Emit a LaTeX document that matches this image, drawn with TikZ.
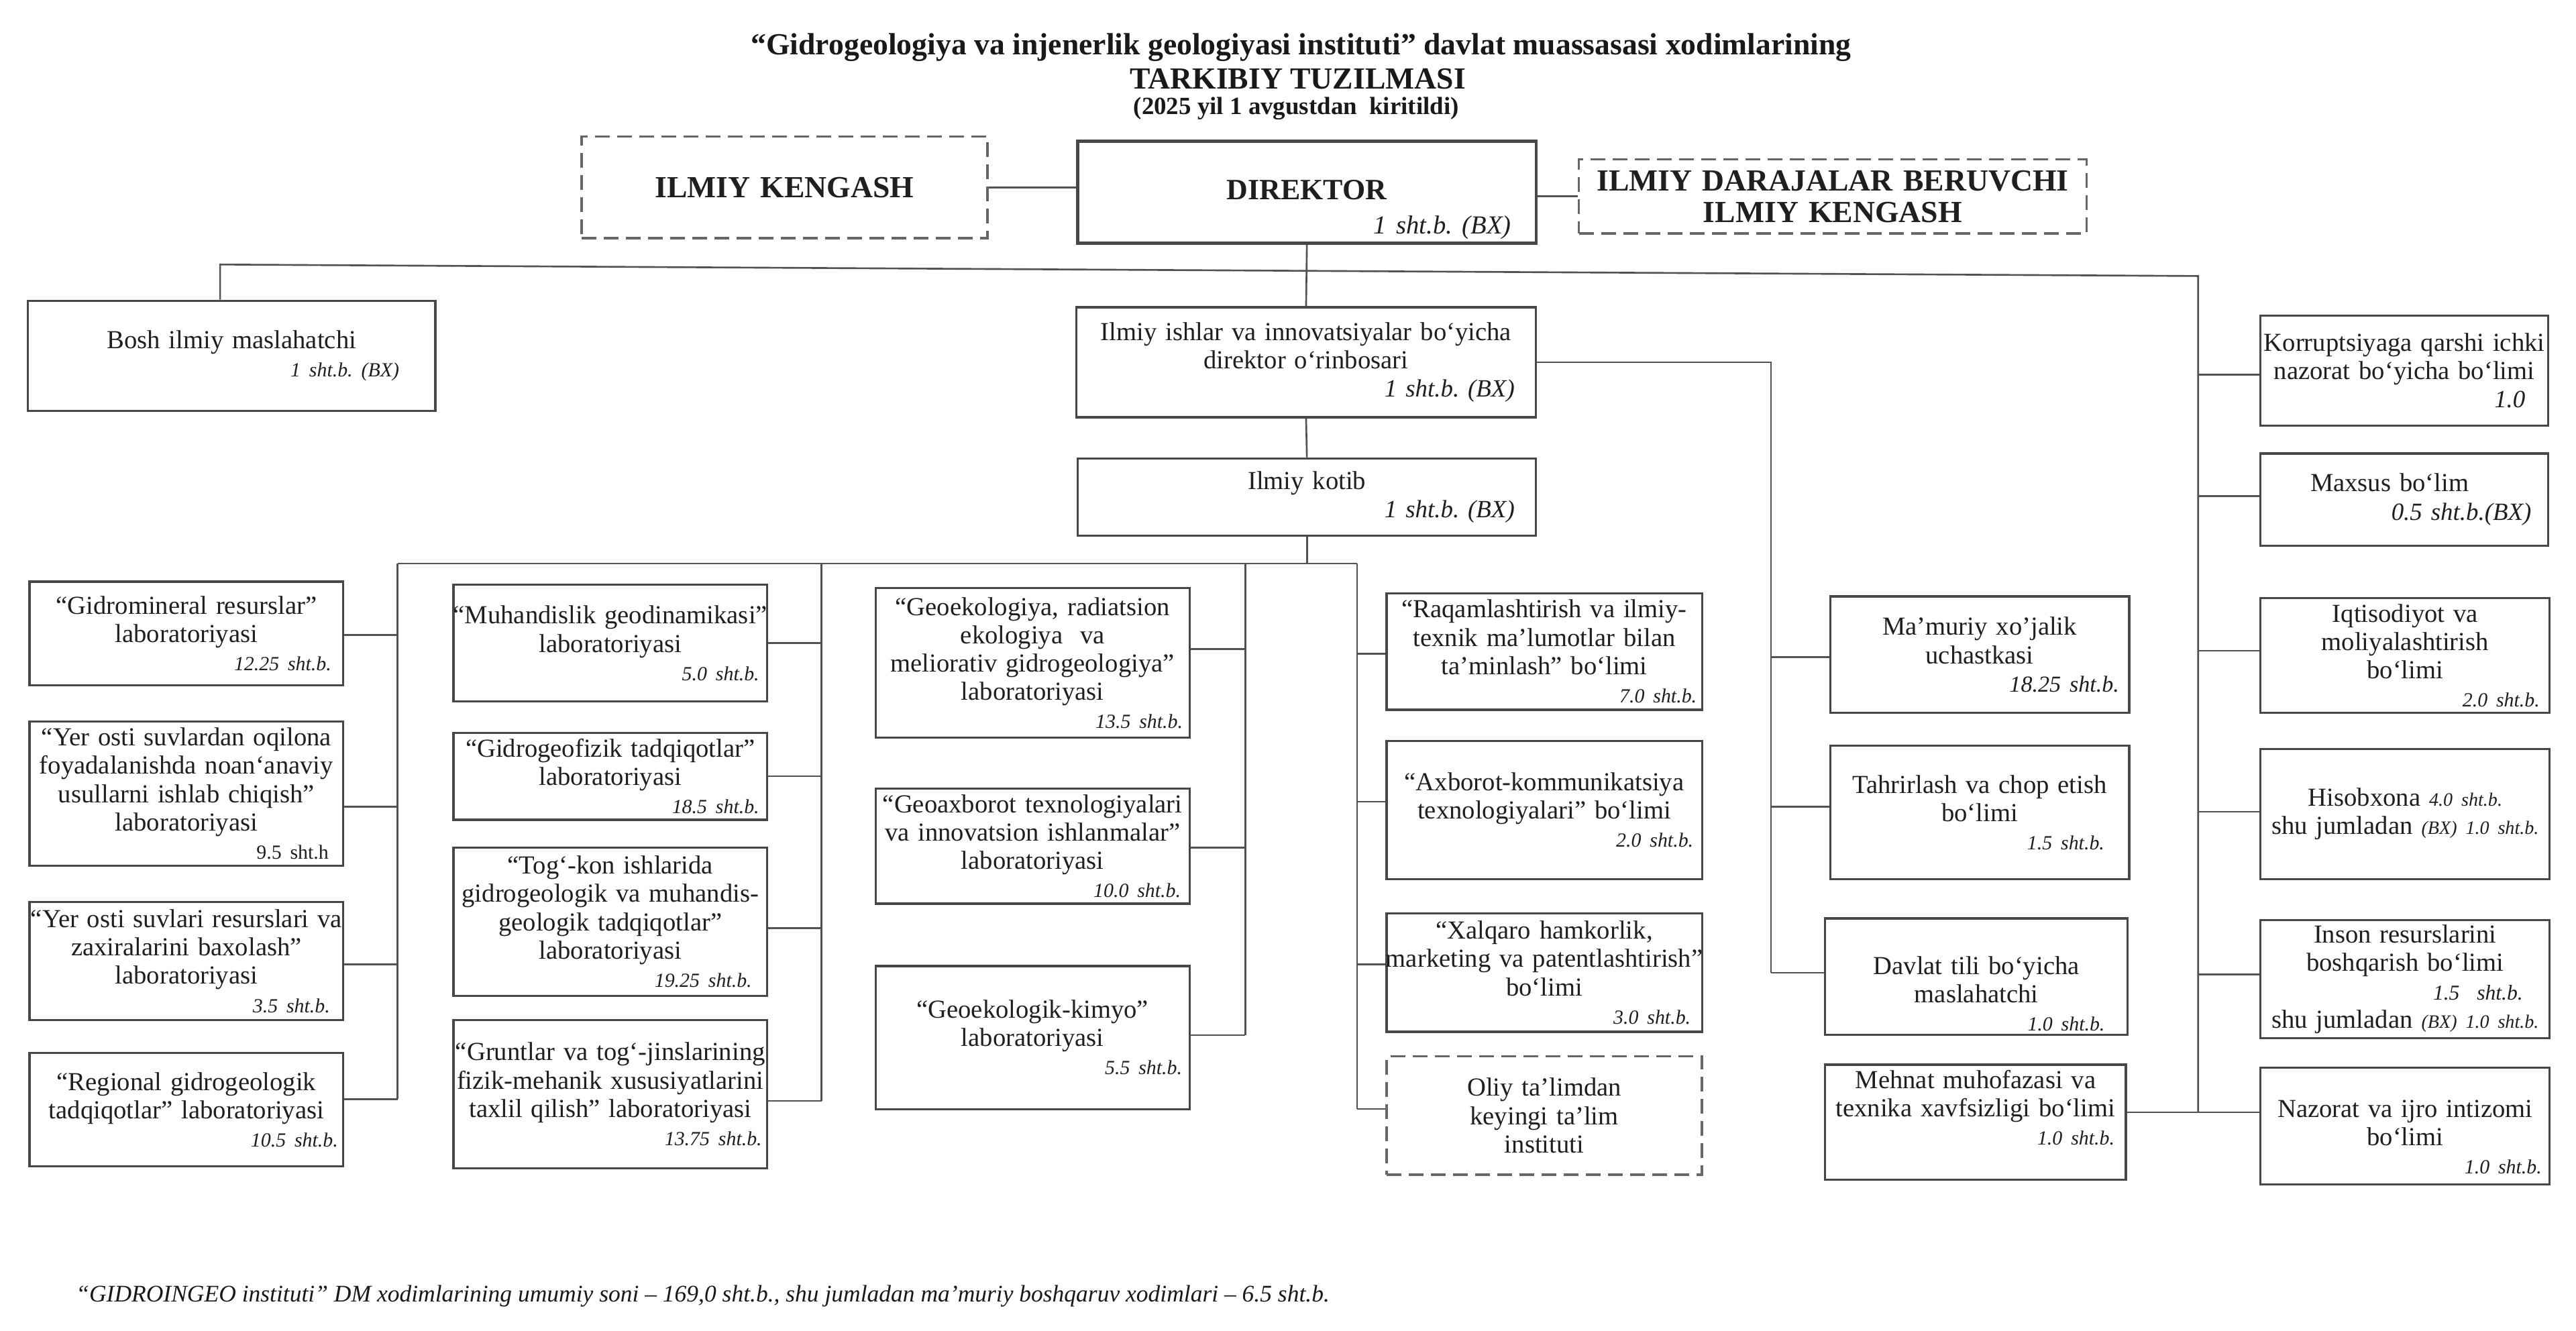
\documentclass[tikz,border=0pt]{standalone}
\usepackage{fontspec}
\setmainfont{Liberation Serif}
\usetikzlibrary{calc}

\newcommand\orgbox[7]{%
  \pgfmathsetmacro\obw{(#4-#2)*0.2449}%
  \pgfmathsetmacro\obh{(#5-#3)*0.2449}%
  \pgfmathsetmacro\otw{\obw+6}%
  \node[obox,minimum width=\obw mm,minimum height=\obh mm,text width=\otw mm,#6] (#1) at ({(#2+#4)/2},{(#3+#5)/2}) {#7};%
}
\newcommand\shtx[3]{\\\hspace*{0pt plus 1filll}{\fontsize{#1}{12}\selectfont\itshape #3}\hspace*{\dimexpr #2+3mm\relax}\mbox{}}
\newcommand\brE[3]{\draw[conn] ($(#1.east)+(0,#3)$) coordinate (#1c) -- (#1c -| #2);}
\newcommand\brW[3]{\draw[conn] ($(#1.west)+(0,#3)$) coordinate (#1c) -- (#1c -| #2);}

\begin{document}
\frenchspacing
\begin{tikzpicture}[x=0.2449mm,y=-0.2449mm,
  obox/.style={draw=black!72, line width=0.9pt, inner xsep=-3mm, inner ysep=0pt,
    align=center, font=\frenchspacing\fontsize{11}{12}\selectfont, text=black!88},
  dbox/.style={draw=black!60, line width=1pt, dash pattern=on 2.2mm off 1.1mm},
  conn/.style={draw=black!68, line width=0.75pt},
  ttl/.style={inner sep=0pt, text=black!90}]
\fill[white] (0,0) rectangle (1568,810);
\useasboundingbox (0,0) rectangle (1568,810);

% ---------- titles ----------
\node[ttl, font=\fontsize{13}{15}\selectfont\bfseries] (t1) at (792,29) {“Gidrogeologiya va injenerlik geologiyasi instituti” davlat muassasasi xodimlarining};
\node[ttl, font=\fontsize{13}{15}\selectfont\bfseries] (t2) at (790,48) {TARKIBIY TUZILMASI};
\node[ttl, font=\fontsize{10.5}{12}\selectfont\bfseries] (t3) at (789,66) {(2025 yil 1 avgustdan\ \ kiritildi)};

% ---------- top row ----------
\orgbox{ik}{354}{83}{601}{145}{dbox, font=\fontsize{13}{14}\selectfont\bfseries}{ILMIY KENGASH}
\orgbox{dir}{656}{86}{935}{148}{line width=1.3pt, font=\frenchspacing\fontsize{12.5}{14.5}\selectfont}{\rule{0pt}{23pt}\textbf{DIREKTOR}\shtx{11}{3.7mm}{1 sht.b. (BX)}}
\orgbox{idk}{961}{97}{1270}{142}{dbox, font=\fontsize{13}{13.4}\selectfont\bfseries}{ILMIY DARAJALAR BERUVCHI\\ILMIY KENGASH}

% ---------- second level ----------
\orgbox{bosh}{17}{183}{265}{250}{}{Bosh ilmiy maslahatchi\shtx{8.5}{5.4mm}{1 sht.b. (BX)}}
\orgbox{dep}{655}{187}{935}{254}{}{Ilmiy ishlar va innovatsiyalar bo‘yicha\\direktor o‘rinbosari\shtx{10.5}{3.2mm}{1 sht.b. (BX)}}
\orgbox{kot}{656}{279}{935}{326}{}{Ilmiy kotib\shtx{10.5}{3.2mm}{1 sht.b. (BX)}}

% ---------- column 1 ----------
\orgbox{gm1}{18}{354}{209}{417}{}{“Gidromineral resurslar”\\laboratoriyasi\shtx{8.5}{1.8mm}{12.25 sht.b.}}
\orgbox{yer1}{18}{439}{209}{527}{}{“Yer osti suvlardan oqilona\\foyadalanishda noan‘anaviy\\usullarni ishlab chiqish”\\laboratoriyasi\\\hspace*{0pt plus 1filll}{\fontsize{8.5}{12}\selectfont 9.5 sht.h}\hspace*{5.2mm}\mbox{}}
\orgbox{yer2}{18}{549}{209}{621}{}{“Yer osti suvlari resurslari va\\zaxiralarini baxolash”\\laboratoriyasi\shtx{8.5}{2mm}{3.5 sht.b.}}
\orgbox{reg}{18}{641}{209}{710}{}{“Regional gidrogeologik\\tadqiqotlar” laboratoriyasi\shtx{8.5}{0.8mm}{10.5 sht.b.}}

% ---------- column 2 ----------
\orgbox{muh}{276}{356}{467}{427}{}{“Muhandislik geodinamikasi”\\laboratoriyasi\shtx{8.5}{1.2mm}{5.0 sht.b.}}
\orgbox{gf}{276}{446}{467}{499}{}{“Gidrogeofizik tadqiqotlar”\\laboratoriyasi\shtx{8.5}{1.2mm}{18.5 sht.b.}}
\orgbox{tog}{276}{516}{467}{606}{}{“Tog‘-kon ishlarida\\gidrogeologik va muhandis-\\geologik tadqiqotlar”\\laboratoriyasi\shtx{8.5}{2.3mm}{19.25 sht.b.}}
\orgbox{gru}{276}{621}{467}{711}{}{“Gruntlar va tog‘-jinslarining\\fizik-mehanik xususiyatlarini\\taxlil qilish” laboratoriyasi\shtx{8.5}{0.8mm}{13.75 sht.b.}}

% ---------- column 3 ----------
\orgbox{geo}{533}{358}{724}{449}{}{“Geoekologiya, radiatsion\\ekologiya\ \ va\\meliorativ gidrogeologiya”\\laboratoriyasi\shtx{8.5}{1mm}{13.5 sht.b.}}
\orgbox{gax}{533}{480}{724}{550}{}{“Geoaxborot texnologiyalari\\va innovatsion ishlanmalar”\\laboratoriyasi\shtx{8.5}{1.3mm}{10.0 sht.b.}}
\orgbox{kim}{533}{588}{724}{675}{}{“Geoekologik-kimyo”\\laboratoriyasi\shtx{8.5}{1.1mm}{5.5 sht.b.}}

% ---------- column 4 ----------
\orgbox{raq}{844}{361}{1036}{432}{}{“Raqamlashtirish va ilmiy-\\texnik ma’lumotlar bilan\\ta’minlash” bo‘limi\shtx{8.5}{0.8mm}{7.0 sht.b.}}
\orgbox{axb}{844}{451}{1036}{535}{}{“Axborot-kommunikatsiya\\texnologiyalari” bo‘limi\shtx{8.5}{1.3mm}{2.0 sht.b.}}
\orgbox{xal}{844}{556}{1036}{628}{}{“Xalqaro hamkorlik,\\marketing va patentlashtirish”\\bo‘limi\shtx{8.5}{1.7mm}{3.0 sht.b.}}
\orgbox{oli}{844}{643}{1036}{715}{dbox}{Oliy ta’limdan\\keyingi ta’lim\\instituti}

% ---------- column 5 ----------
\orgbox{mam}{1114}{363}{1296}{434}{}{Ma’muriy xo’jalik\\uchastkasi\shtx{9.7}{1.5mm}{18.25 sht.b.}}
\orgbox{tah}{1114}{454}{1296}{535}{}{Tahrirlash va chop etish\\bo‘limi\shtx{8.5}{3.7mm}{1.5 sht.b.}}
\orgbox{dav}{1111}{559}{1295}{630}{}{\rule{0pt}{22pt}Davlat tili bo‘yicha\\maslahatchi\shtx{8.5}{3.4mm}{1.0 sht.b.}}
\orgbox{meh}{1111}{648}{1294}{718}{}{Mehnat muhofazasi va\\texnika xavfsizligi bo‘limi\shtx{8.5}{1.7mm}{1.0 sht.b.}\rule[-12.5pt]{0pt}{0pt}}

% ---------- right column ----------
\orgbox{korr}{1376}{192}{1551}{259}{}{Korruptsiyaga qarshi ichki\\nazorat bo‘yicha bo‘limi\shtx{10.5}{3.4mm}{1.0}}
\orgbox{maxs}{1376}{276}{1551}{332}{}{Maxsus bo‘lim\hspace*{4.4mm}\mbox{}\shtx{10.5}{2.5mm}{0.5 sht.b.(BX)}}
\orgbox{iqt}{1376}{364}{1552}{434}{}{Iqtisodiyot va\\moliyalashtirish\\bo‘limi\shtx{8.5}{1.5mm}{2.0 sht.b.}}
\orgbox{his}{1376}{456}{1552}{535}{}{Hisobxona {\fontsize{8}{12}\selectfont\itshape 4.0 sht.b.}\\shu jumladan {\fontsize{8}{12}\selectfont\itshape (BX) 1.0 sht.b.}}
\orgbox{ins}{1376}{560}{1552}{632}{}{Inson resurslarini\\boshqarish bo‘limi\shtx{9}{4mm}{1.5\ \ sht.b.}\\shu jumladan {\fontsize{8}{12}\selectfont\itshape (BX) 1.0 sht.b.}}
\orgbox{naz}{1376}{650}{1552}{721}{}{\rule{0pt}{16.5pt}Nazorat va ijro intizomi\\bo‘limi\shtx{8.5}{1.2mm}{1.0 sht.b.}}

% ---------- footer ----------
\node[ttl, anchor=west, font=\frenchspacing\fontsize{10.1}{12}\selectfont\itshape] (foot) at (46,789) {“GIDROINGEO instituti” DM xodimlarining umumiy soni – 169,0 sht.b., shu jumladan ma’muriy boshqaruv xodimlari – 6.5 sht.b.};

% ---------- connectors ----------
\draw[conn] (ik.east) -- (ik.east -| dir.west);
\draw[conn] (idk.west -| dir.east) -- (idk.west);

\coordinate (mbL) at (134,161);
\coordinate (rb) at (1338,168);
\coordinate (rbEnd) at (1338,677);
\draw[conn] (mbL |- bosh.north) -- (mbL) -- (rb) -- (rbEnd);
\draw[conn] (dir.south) -- (dep.north);
\draw[conn] (dep.south) -- (kot.north);

\coordinate (c1) at (242,343);
\coordinate (c2) at (500,343);
\coordinate (c3) at (758,343);
\coordinate (c4) at (826,343);
\coordinate (c5) at (1078,0);
\draw[conn] (kot.south) -- (kot.south |- c1);
\draw[conn] (c1) -- (c4);

\brE{gm1}{c1}{1}
\brE{yer1}{c1}{8}
\brE{yer2}{c1}{2}
\brE{reg}{c1}{-6.5}
\brE{muh}{c2}{0}
\brE{gf}{c2}{0}
\brE{tog}{c2}{4}
\brE{gru}{c2}{4}
\brE{geo}{c3}{-8.5}
\brE{gax}{c3}{1}
\brE{kim}{c3}{-1.5}
\brW{raq}{c4}{1.5}
\brW{axb}{c4}{-5}
\brW{xal}{c4}{-5}
\brW{oli}{c4}{-4}
\brW{mam}{c5}{1.5}
\brW{tah}{c5}{-3.5}
\brW{dav}{c5}{-2.5}
\brW{korr}{rb}{2.5}
\brW{maxs}{rb}{-2}
\brW{iqt}{rb}{-3}
\brW{his}{rb}{-1.5}
\brW{ins}{rb}{-3}

\draw[conn] (c1) -- (regc -| c1);
\draw[conn] (c2) -- (gruc -| c2);
\draw[conn] (c3) -- (kimc -| c3);
\draw[conn] (c4) -- (olic -| c4);
\draw[conn] (dep.east) -- (dep.east -| c5) -- (davc -| c5);
\draw[conn] (rbEnd -| meh.east) -- (rbEnd -| naz.west);
\end{tikzpicture}
\end{document}
